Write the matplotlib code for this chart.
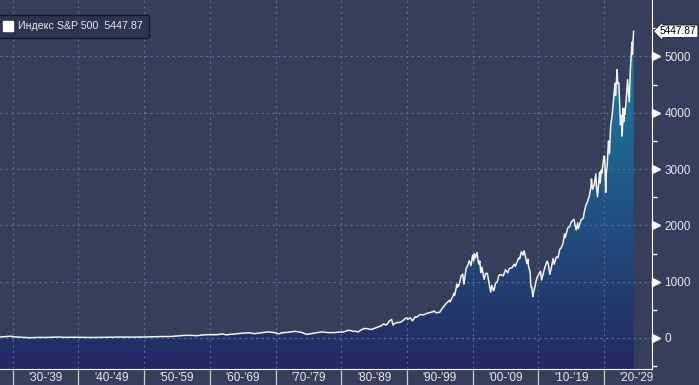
import numpy as np
import matplotlib
matplotlib.use('Agg')
import matplotlib.pyplot as plt
from matplotlib.colors import LinearSegmentedColormap
from matplotlib.lines import Line2D
import matplotlib.transforms as mtransforms

plt.rcParams['font.family'] = ['Liberation Sans', 'DejaVu Sans']

# ----------------------
# data: S&P 500 closes (month-end)
# ----------------------
dates = [
    '1927-12', '1928-12', '1929-09', '1929-12', '1930-12', '1931-12', '1932-06', '1932-12',
    '1933-12', '1934-12', '1935-12', '1936-12', '1937-12', '1938-12', '1939-12',
    '1940-12', '1941-12', '1942-12', '1943-12', '1944-12', '1945-12', '1946-12',
    '1947-12', '1948-12', '1949-12', '1950-12', '1951-12', '1952-12', '1953-12',
    '1954-12', '1955-12', '1956-12', '1957-12', '1958-12', '1959-12', '1960-12',
    '1961-12', '1962-06', '1962-12', '1963-12', '1964-12', '1965-12', '1966-09',
    '1966-12', '1967-12', '1968-11', '1969-12', '1970-06', '1970-12', '1971-12',
    '1972-12', '1973-12', '1974-09', '1974-12', '1975-12', '1976-12', '1977-12',
    '1978-12', '1979-12',
    '1980-03', '1980-12', '1981-06', '1981-09', '1981-12', '1982-07', '1982-12',
    '1983-06', '1983-12', '1984-07', '1984-12', '1985-06', '1985-12', '1986-06',
    '1986-09', '1986-12', '1987-03', '1987-08', '1987-10', '1987-11', '1987-12',
    '1988-06', '1988-12', '1989-06', '1989-09', '1989-12', '1990-01', '1990-06',
    '1990-10', '1990-12', '1991-03', '1991-06', '1991-12', '1992-06', '1992-12',
    '1993-06', '1993-12', '1994-01', '1994-06', '1994-12', '1995-06', '1995-12',
    '1996-03', '1996-06', '1996-07', '1996-09', '1996-12', '1997-02', '1997-03',
    '1997-06', '1997-07', '1997-08', '1997-09', '1997-10', '1997-12', '1998-03',
    '1998-06', '1998-08', '1998-09', '1998-12', '1999-03', '1999-06', '1999-09',
    '1999-12', '2000-02', '2000-03', '2000-05', '2000-08', '2000-11', '2000-12',
    '2001-01', '2001-03', '2001-05', '2001-09', '2001-12', '2002-03', '2002-07',
    '2002-09', '2002-11', '2003-02', '2003-03', '2003-06', '2003-09', '2003-12',
    '2004-03', '2004-08', '2004-12', '2005-04', '2005-07', '2005-12', '2006-04',
    '2006-06', '2006-12', '2007-02', '2007-05', '2007-08', '2007-10', '2007-12',
    '2008-03', '2008-05', '2008-06', '2008-09', '2008-10', '2008-11', '2008-12',
    '2009-02', '2009-03', '2009-06', '2009-09', '2009-12', '2010-04', '2010-06',
    '2010-09', '2010-12', '2011-04', '2011-06', '2011-09', '2011-12', '2012-03',
    '2012-05', '2012-09', '2012-12', '2013-03', '2013-06', '2013-09', '2013-12',
    '2014-01', '2014-06', '2014-09', '2014-12', '2015-05', '2015-08', '2015-09',
    '2015-12', '2016-01', '2016-06', '2016-10', '2016-12', '2017-03', '2017-06',
    '2017-09', '2017-12', '2018-01', '2018-03', '2018-06', '2018-09', '2018-10',
    '2018-12', '2019-04', '2019-05', '2019-07', '2019-08', '2019-12', '2020-01',
    '2020-02', '2020-03', '2020-04', '2020-06', '2020-08', '2020-10', '2020-12',
    '2021-03', '2021-06', '2021-08', '2021-09', '2021-12', '2022-01', '2022-03',
    '2022-06', '2022-08', '2022-09', '2022-11', '2022-12', '2023-01', '2023-02',
    '2023-04', '2023-07', '2023-10', '2023-12', '2024-03', '2024-04', '2024-05',
    '2024-06',
]
values = [
    17.7, 24.4, 31.9, 21.5, 15.3, 8.1, 4.4, 6.9,
    10.1, 9.5, 13.4, 17.2, 10.6, 13.2, 12.5,
    10.6, 8.7, 9.8, 11.7, 13.3, 17.4, 15.3,
    15.3, 15.2, 16.8, 20.4, 23.8, 26.6, 24.8,
    36.0, 45.5, 46.7, 40.0, 55.2, 59.9, 58.1,
    71.6, 54.8, 63.1, 75.0, 84.8, 92.4, 76.6,
    80.3, 96.5, 108.4, 92.1, 72.7, 92.2, 102.1,
    118.1, 97.6, 63.5, 68.6, 90.2, 107.5, 95.1,
    96.1, 107.9,
    102.1, 135.8, 131.2, 116.2, 122.6, 107.1, 140.6,
    168.1, 164.9, 150.7, 167.2, 191.9, 211.3, 250.8,
    231.3, 242.2, 291.7, 329.8, 251.8, 230.3, 247.1,
    273.5, 277.7, 317.9, 349.2, 353.4, 329.1, 358.0,
    304.0, 330.2, 375.2, 371.2, 417.1, 408.1, 435.7,
    450.5, 466.5, 481.6, 444.3, 459.3, 544.8, 615.9,
    645.5, 670.6, 639.9, 687.3, 740.7, 790.8, 757.1,
    885.1, 954.3, 899.5, 947.3, 914.6, 970.4, 1101.8,
    1133.8, 957.3, 1017.0, 1229.2, 1286.4, 1372.7, 1282.7,
    1469.3, 1366.4, 1498.6, 1420.6, 1517.7, 1315.2, 1320.3,
    1366.0, 1160.3, 1255.8, 1040.9, 1148.1, 1147.4, 911.6,
    815.3, 936.3, 841.2, 848.2, 974.5, 996.0, 1111.9,
    1126.2, 1104.2, 1211.9, 1156.9, 1234.2, 1248.3, 1310.6,
    1270.2, 1418.3, 1406.8, 1530.6, 1474.0, 1549.4, 1468.4,
    1322.7, 1400.4, 1280.0, 1166.4, 968.8, 896.2, 903.3,
    735.1, 797.9, 919.3, 1057.1, 1115.1, 1186.7, 1030.7,
    1141.2, 1257.6, 1363.6, 1320.6, 1131.4, 1257.6, 1408.5,
    1310.3, 1440.7, 1426.2, 1569.2, 1606.3, 1681.6, 1848.4,
    1782.6, 1960.2, 1972.3, 2058.9, 2107.4, 1972.2, 1920.0,
    2043.9, 1940.2, 2098.9, 2126.2, 2238.8, 2362.7, 2423.4,
    2519.4, 2673.6, 2823.8, 2640.9, 2718.4, 2914.0, 2711.7,
    2506.9, 2945.8, 2752.1, 2980.4, 2926.5, 3230.8, 3225.5,
    2954.2, 2584.6, 2912.4, 3100.3, 3500.3, 3270.0, 3756.1,
    3972.9, 4297.5, 4522.7, 4307.5, 4766.2, 4515.6, 4530.4,
    3785.4, 3955.0, 3585.6, 4080.1, 3839.5, 4076.6, 3970.2,
    4169.5, 4589.0, 4193.8, 4769.8, 5254.4, 5035.7, 5277.5,
    5447.87,
]
last_value = 5447.87
legend_label = 'Индекс S&P 500  5447.87'
decades = list(range(1930, 2030, 10))
decade_labels = ["'%02d-'%02d" % (d % 100, (d + 9) % 100) for d in decades]
y_ticks = [0, 1000, 2000, 3000, 4000, 5000]

# decimal years (month-end)
x = np.array([int(d[:4]) + int(d[5:7]) / 12 for d in dates])
y = np.array(values)

# ----------------------
# style
# ----------------------
bg = '#353f5b'
grid_c = '#5d6b8c'
fg = '#e6e8ee'
ymin, ymax = -551, 6003

fig = plt.figure(figsize=(6.99, 3.85), dpi=100, facecolor=bg)
ax = fig.add_axes([0, 16 / 385, 652 / 699, 369 / 385])
ax.set_facecolor(bg)

# gradient fill under the line
fill = ax.fill_between(x, y, ymin, color='none', lw=0)
cmap = LinearSegmentedColormap.from_list('sp', ['#242862', '#1d84a8'])
grad = np.linspace(0, 1, 256).reshape(-1, 1)
img = ax.imshow(grad, cmap=cmap, origin='lower', aspect='auto',
                extent=[x[0], x[-1], ymin, 5500], zorder=1)
img.set_clip_path(fill.get_paths()[0], transform=ax.transData)
ax.set_ylim(ymin, ymax)
ax.set_xlim(1928.07, 2027.3)

ax.plot(x, y, color='#f2f2f2', lw=1.1, zorder=3)

# grid
for d in decades:
    ax.axvline(d, color=grid_c, lw=0.8, ls=(0, (2, 3)), zorder=2)
for t in y_ticks:
    ax.axhline(t, color=grid_c, lw=0.8, ls=(0, (2, 3)), zorder=2)

# spines
for s in ['top', 'left']:
    ax.spines[s].set_visible(False)
ax.spines['right'].set_color('white')
ax.spines['bottom'].set_color('white')

# x axis: long ticks at decade boundaries, labels in the middle
ax.set_xticks(decades)
ax.set_xticklabels([])
ax.set_xticks([d + 5 for d in decades], minor=True)
ax.set_xticklabels(decade_labels, minor=True)
ax.tick_params(axis='x', which='major', length=12, width=0.9, color='#c8ccd6', direction='out')
ax.tick_params(axis='x', which='minor', length=0, pad=2, labelsize=8.5, labelcolor=fg)

# y axis on the right with triangle markers
ax.yaxis.tick_right()
ax.set_yticks(y_ticks)
ax.set_yticks([-500, 500, 1500, 2500, 3500, 4500, 5500], minor=True)
ax.tick_params(axis='y', which='major', length=0, pad=9, labelsize=8.5, labelcolor=fg)
ax.tick_params(axis='y', which='minor', length=3.5, width=1, color='white', direction='out')
trans = mtransforms.blended_transform_factory(ax.transAxes, ax.transData)
offset = mtransforms.ScaledTranslation(4 / 100, 0, fig.dpi_scale_trans)
for t in y_ticks:
    ax.plot([1.0], [t], marker='>', ms=5.5, color='white', mec='white',
            transform=trans + offset, clip_on=False, zorder=5)

# last value label
ax.text(1.0, last_value, '5447.87',
        transform=trans + mtransforms.ScaledTranslation(8 / 100, 0, fig.dpi_scale_trans),
        ha='left', va='center', fontsize=7.3, color='black', zorder=6,
        bbox=dict(boxstyle='larrow,pad=0.12', fc='white', ec='#222222', lw=0.6))

# legend
handle = Line2D([], [], marker='s', color='none', mfc='white', mec='white', ms=7)
leg = ax.legend([handle], [legend_label], loc='upper left',
                bbox_to_anchor=(-0.004, 1 - 15 / 369), borderaxespad=0,
                fontsize=7.7, labelcolor=fg, handlelength=0.8, handletextpad=0.5,
                borderpad=0.6, fancybox=True, framealpha=1)
leg.get_frame().set_facecolor('#2c3550')
leg.get_frame().set_edgecolor('#141824')
leg.get_frame().set_linewidth(1)

fig.savefig('out.png', dpi=100, facecolor=bg)
